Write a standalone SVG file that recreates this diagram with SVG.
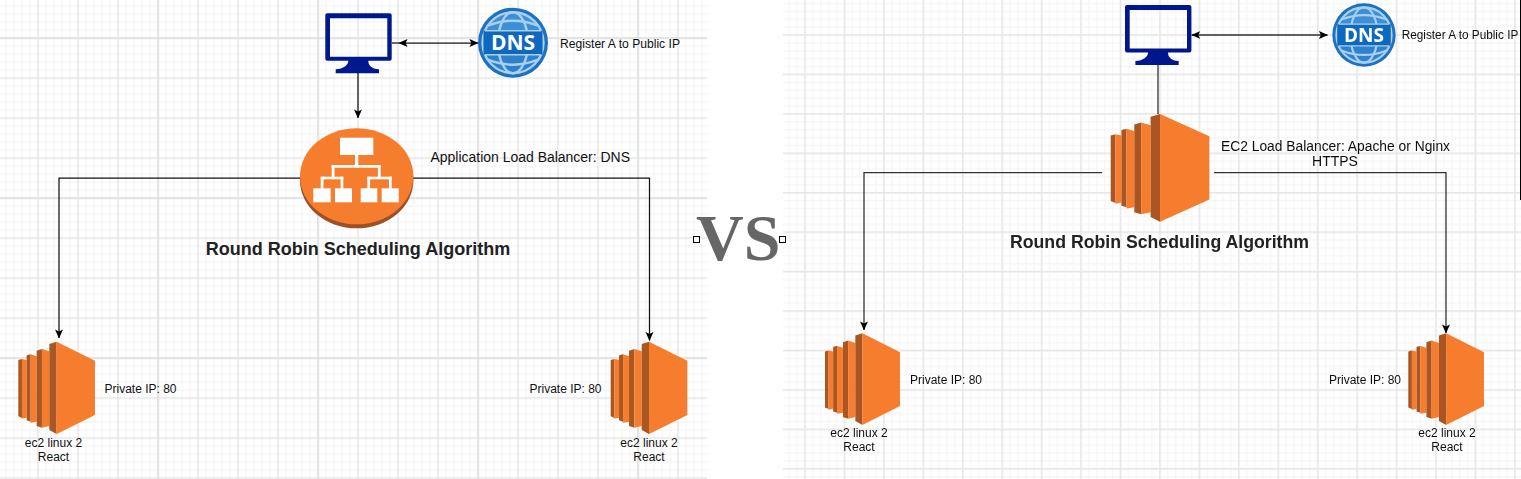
<svg xmlns="http://www.w3.org/2000/svg" width="1521" height="479" viewBox="0 0 1521 479">
<style>
text{font-family:"Liberation Sans",Arial,sans-serif;fill:#111}
.lb{font-size:12px}
.mid{text-anchor:middle}
.ttl{font-size:18px;font-weight:bold;fill:#222;text-anchor:middle}
.big{font-size:14px}
.cn{fill:none;stroke:#111;stroke-width:1.25}
.cr{fill:none;stroke:#333;stroke-width:1.3}
.vs{font-family:"Liberation Serif",serif;font-size:66px;font-weight:bold;fill:#666}
.h{fill:#fff;stroke:#000;stroke-width:1}
.dk{fill:#AB5722}.or{fill:#F67D2E}
.dns{font-family:"Open Sans",sans-serif;font-weight:700;font-size:21px;fill:#fff;text-anchor:middle}
.b{filter:url(#bl)}
</style>
<defs>
<filter id="bl" x="-5%" y="-5%" width="110%" height="110%"><feGaussianBlur stdDeviation="0.35"/></filter>
<pattern id="f1" width="8" height="8" patternUnits="userSpaceOnUse" patternTransform="translate(-2.8 37.2)"><path d="M0 .8H8M.8 0V8" fill="none" stroke="#f5f5f5" stroke-width="1.2"/></pattern>
<pattern id="c1" width="40" height="40" patternUnits="userSpaceOnUse" patternTransform="translate(-2.8 37.2)"><path d="M0 .8H40M.8 0V40" fill="none" stroke="#e6e6e6" stroke-width="1.3"/></pattern>
<pattern id="m1" width="160" height="160" patternUnits="userSpaceOnUse" patternTransform="translate(-2.8 37.2)"><path d="M0 .8H160M.8 0V160" fill="none" stroke="#dedede" stroke-width="1.3"/></pattern>
<pattern id="f2" width="8" height="8" patternUnits="userSpaceOnUse" patternTransform="translate(804.2 34.2) scale(.986)"><path d="M0 .8H8M.8 0V8" fill="none" stroke="#f5f5f5" stroke-width="1.2"/></pattern>
<pattern id="c2" width="40" height="40" patternUnits="userSpaceOnUse" patternTransform="translate(804.2 34.2) scale(.986)"><path d="M0 .8H40M.8 0V40" fill="none" stroke="#e6e6e6" stroke-width="1.4"/></pattern>
<marker id="ah" viewBox="0 0 10 10" refX="9.5" refY="5" markerUnits="userSpaceOnUse" markerWidth="9" markerHeight="9" orient="auto-start-reverse"><path d="M0 .6L10 5L0 9.4L2.2 5Z" fill="#000"/></marker>
<g id="mon">
<path fill-rule="evenodd" fill="#00188D" d="M2 0H64.4A2 2 0 0 1 66.4 2V45.4A2 2 0 0 1 64.4 47.4H43C43 52 46 55.5 53.7 56V60H10.4V56C18 55.5 23 52 23 47.4H2A2 2 0 0 1 0 45.4V2A2 2 0 0 1 2 0ZM4.7 5V43.4H62V5Z"/>
</g>
<g id="ec2">
<path class="dk" d="M0 55L11 52V229L0 224Z"/><path class="or" d="M11 52L25 55V228L11 231Z"/>
<path class="dk" d="M25 41L37 38V240L25 236Z"/><path class="or" d="M37 38L55 44V240L37 243Z"/>
<path class="dk" d="M55 27L71 22V258L55 253Z"/><path class="or" d="M71 22L93 29V253L71 258Z"/>
<path class="dk" d="M93 7L115 0V277L93 265Z"/><path class="or" d="M115 0L230 57V220L115 277Z"/>
</g>
<g id="dnsg">
<circle r="35" fill="#1C72BE"/>
<circle r="30" fill="#3E90D6"/>
<path d="M-30 0A30 30 0 0 0 30 0Z" fill="#1C72BE" fill-opacity=".5"/>
<g fill="none" stroke="#A9CFEE" stroke-width="2.4">
<circle r="30.5"/>
<ellipse rx="15" ry="30.5"/>
<path d="M-25-17Q0-27 25-17M-25 17Q0 27 25 17"/>
</g>
<rect x="-29.5" y="-12" width="59" height="24" fill="#0E69BC"/>
<path d="M-28-12H28M-28 12H28" fill="none" stroke="#A9CFEE" stroke-width="1.6"/>
<text class="dns" y="7.6">DNS</text>
</g>
</defs>

<g id="grid">
<rect x="0" y="0" width="1521" height="479" fill="#fff"/>
<rect x="0" y="0" width="707" height="479" fill="url(#f1)"/>
<rect x="0" y="0" width="707" height="479" fill="url(#c1)"/>
<rect x="0" y="0" width="707" height="479" fill="url(#m1)"/>
<rect x="783" y="0" width="738" height="479" fill="url(#f2)"/>
<rect x="783" y="0" width="738" height="479" fill="url(#c2)"/>
<rect x="1520" y="0" width="1" height="200" fill="#000"/>
</g>

<g id="connectors">
<path class="cn" d="M358 73V118" marker-end="url(#ah)"/>
<path class="cn" d="M392 43H399"/>
<path class="cn" d="M399 43H478" marker-start="url(#ah)" marker-end="url(#ah)"/>
<path class="cn" d="M300 178H59V338" marker-end="url(#ah)"/>
<path class="cn" d="M413 178H649.5V340.5" marker-end="url(#ah)"/>
<g class="b">
<path class="cr" d="M1158 64V114"/>
<path class="cr" d="M1191.7 35H1327.5" marker-start="url(#ah)" marker-end="url(#ah)"/>
<path class="cr" d="M1102 172.7H864V330" marker-end="url(#ah)"/>
<path class="cr" d="M1214 172.7H1446V333" marker-end="url(#ah)"/>
</g>
</g>

<g id="client-left"><use href="#mon" x="325.3" y="13.3"/></g>
<g id="dns-left"><use href="#dnsg" transform="translate(513 42.7)"/><text class="lb" x="560" y="48" textLength="120" lengthAdjust="spacingAndGlyphs">Register A to Public IP</text></g>
<g id="alb">
<ellipse cx="356.7" cy="180.3" rx="56.7" ry="48" fill="#9D5025"/>
<ellipse cx="356.7" cy="176.3" rx="56.7" ry="48" fill="#F67D2E"/>
<g fill="#fff">
<rect x="340" y="137.7" width="33.3" height="17.3"/>
<rect x="355" y="155" width="3.3" height="10"/>
<rect x="331.7" y="165" width="49" height="2.7"/>
<rect x="331.7" y="165" width="2.8" height="12"/><rect x="377.9" y="165" width="2.8" height="12"/>
<rect x="320.7" y="176.7" width="22.6" height="2.6"/><rect x="367.3" y="176.7" width="24.4" height="2.6"/>
<rect x="320.7" y="176.7" width="2.8" height="12"/><rect x="340.6" y="176.7" width="2.7" height="12"/>
<rect x="367.3" y="176.7" width="2.8" height="12"/><rect x="388.9" y="176.7" width="2.8" height="12"/>
<rect x="313.3" y="188.3" width="17.4" height="14"/><rect x="335" y="188.3" width="17" height="14"/>
<rect x="360.7" y="188.3" width="16.6" height="14"/><rect x="381.7" y="188.3" width="17" height="14"/>
</g>
<text class="big" x="430.5" y="161.7" textLength="199.5" lengthAdjust="spacingAndGlyphs">Application Load Balancer: DNS</text>
</g>
<text id="title-left" class="ttl" x="358" y="255">Round Robin Scheduling Algorithm</text>
<g id="ec2-left-a"><use href="#ec2" transform="translate(18.3 341.7) scale(.3333)"/><text class="lb" x="104.5" y="392.7">Private IP: 80</text><text class="lb mid" x="53.5" y="446.7">ec2 linux 2</text><text class="lb mid" x="53.5" y="460.7">React</text></g>
<g id="ec2-left-b"><use href="#ec2" transform="translate(610.7 341.7) scale(.3333)"/><text class="lb" x="529.5" y="392.7">Private IP: 80</text><text class="lb mid" x="649" y="446.7">ec2 linux 2</text><text class="lb mid" x="649" y="460.7">React</text></g>

<g id="vs"><text class="vs" x="696" y="260">VS</text><rect class="h" x="693.5" y="236.5" width="6" height="6"/><rect class="h" x="779.5" y="236.5" width="6" height="6"/></g>

<g id="client-right" class="b"><use href="#mon" x="1125" y="5"/></g>
<g id="dns-right" class="b"><use href="#dnsg" transform="translate(1364 35) scale(.905)"/><text class="lb" x="1401.7" y="39" textLength="116.6" lengthAdjust="spacingAndGlyphs">Register A to Public IP</text></g>
<g id="ec2-lb" class="b"><use href="#ec2" transform="translate(1110.7 114) scale(.429 .3887)"/>
<text class="big" x="1221" y="150.7" textLength="229" lengthAdjust="spacingAndGlyphs">EC2 Load Balancer: Apache or Nginx</text><text class="big mid" x="1335" y="166">HTTPS</text></g>
<text id="title-right" class="ttl b" x="1159.5" y="248" style="font-size:17.7px">Round Robin Scheduling Algorithm</text>
<g id="ec2-right-a" class="b"><use href="#ec2" transform="translate(825 333.3) scale(.326 .331)"/><text class="lb" x="910" y="384">Private IP: 80</text><text class="lb mid" x="859" y="437">ec2 linux 2</text><text class="lb mid" x="859" y="450.7">React</text></g>
<g id="ec2-right-b" class="b"><use href="#ec2" transform="translate(1408.3 333.3) scale(.329 .331)"/><text class="lb" x="1329" y="384">Private IP: 80</text><text class="lb mid" x="1447" y="437">ec2 linux 2</text><text class="lb mid" x="1447" y="450.7">React</text></g>
</svg>
